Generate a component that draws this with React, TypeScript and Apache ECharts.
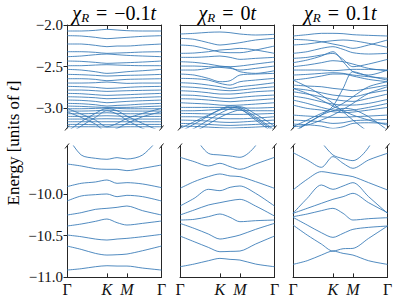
import React, { useEffect, useRef } from 'react';
import * as echarts from 'echarts';

const K_POS = 0.4226;
const M_POS = 0.634;
const SAMPLE_X = [0, 0.15, 0.3, K_POS, 0.53, M_POS, 0.8, 1];
const PATH_TICKS = [0, K_POS, M_POS, 1];
const PATH_LABELS = ['Γ', 'K', 'M', 'Γ'];
const TITLE_VALUES = ['−0.1', '0', '0.1'];
const TOP_RANGE = [-3.235, -2.0];
const BOTTOM_RANGE = [-11.0, -9.4245];
const TOP_TICKS = [-3.0, -2.5, -2.0];
const BOTTOM_TICKS = [-11.0, -10.5, -10.0];

// chi_R = -0.1t, upper window
const TOP_NEG: number[][] = [
  [-2.072, -2.072, -2.064, -2.052, -2.06, -2.068, -2.072, -2.072],
  [-2.128, -2.132, -2.148, -2.164, -2.156, -2.148, -2.136, -2.128],
  [-2.228, -2.228, -2.244, -2.26, -2.252, -2.252, -2.24, -2.228],
  [-2.32, -2.32, -2.328, -2.34, -2.336, -2.332, -2.324, -2.32],
  [-2.38, -2.372, -2.356, -2.348, -2.356, -2.364, -2.372, -2.38],
  [-2.432, -2.436, -2.448, -2.46, -2.456, -2.452, -2.444, -2.432],
  [-2.488, -2.488, -2.48, -2.476, -2.48, -2.484, -2.488, -2.488],
  [-2.532, -2.54, -2.56, -2.58, -2.572, -2.56, -2.548, -2.532],
  [-2.592, -2.596, -2.604, -2.612, -2.608, -2.604, -2.6, -2.592],
  [-2.644, -2.644, -2.652, -2.668, -2.66, -2.652, -2.648, -2.644],
  [-2.696, -2.696, -2.692, -2.684, -2.692, -2.7, -2.696, -2.696],
  [-2.736, -2.74, -2.748, -2.76, -2.756, -2.748, -2.74, -2.736],
  [-2.78, -2.78, -2.788, -2.796, -2.792, -2.788, -2.784, -2.78],
  [-2.82, -2.824, -2.836, -2.844, -2.84, -2.836, -2.828, -2.82],
  [-2.86, -2.864, -2.872, -2.884, -2.88, -2.876, -2.868, -2.86],
  [-2.9, -2.904, -2.916, -2.932, -2.924, -2.916, -2.908, -2.9],
  [-2.94, -2.944, -2.956, -2.972, -2.964, -2.96, -2.948, -2.94],
  [-2.972, -2.976, -2.984, -2.988, -2.988, -2.988, -2.98, -2.972],
  [-3.004, -3.004, -3.0, -2.996, -3.0, -3.004, -3.004, -3.004],
  [-3.032, -3.032, -3.028, -3.02, -3.028, -3.032, -3.032, -3.032],
  [-3.064, -3.064, -3.06, -3.052, -3.06, -3.064, -3.064, -3.064],
  [-3.096, -3.096, -3.092, -3.088, -3.092, -3.096, -3.096, -3.096],
  [-3.128, -3.128, -3.126, -3.124, -3.126, -3.128, -3.128, -3.128],
  [-3.16, -3.16, -3.16, -3.16, -3.16, -3.16, -3.16, -3.16],
  [-3.192, -3.192, -3.196, -3.196, -3.196, -3.192, -3.192, -3.192],
  [-3.22, -3.22, -3.22, -3.224, -3.224, -3.22, -3.22, -3.22],
  [-3.28, -3.16, -3.06, -3.0, -3.028, -3.092, -3.18, -3.28],
  [-3.32, -3.212, -3.108, -3.028, -3.068, -3.14, -3.24, -3.32],
  [-3.0, -3.068, -3.14, -3.22, -3.18, -3.12, -3.06, -3.0],
  [-3.04, -3.108, -3.188, -3.28, -3.24, -3.18, -3.1, -3.04],
];

// chi_R = 0, upper window
const TOP_ZERO: number[][] = [
  [-2.108, -2.1, -2.088, -2.084, -2.092, -2.108, -2.12, -2.112],
  [-2.16, -2.172, -2.212, -2.24, -2.228, -2.212, -2.18, -2.16],
  [-2.24, -2.252, -2.292, -2.324, -2.332, -2.332, -2.3, -2.252],
  [-2.34, -2.336, -2.32, -2.3, -2.292, -2.28, -2.3, -2.34],
  [-2.388, -2.388, -2.38, -2.372, -2.388, -2.412, -2.4, -2.388],
  [-2.44, -2.448, -2.468, -2.492, -2.5, -2.492, -2.468, -2.44],
  [-2.492, -2.492, -2.5, -2.508, -2.52, -2.54, -2.52, -2.492],
  [-2.54, -2.54, -2.52, -2.5, -2.508, -2.56, -2.58, -2.548],
  [-2.588, -2.6, -2.64, -2.68, -2.668, -2.6, -2.588, -2.58],
  [-2.64, -2.644, -2.66, -2.7, -2.72, -2.68, -2.66, -2.64],
  [-2.692, -2.7, -2.72, -2.74, -2.76, -2.74, -2.72, -2.692],
  [-2.74, -2.748, -2.764, -2.78, -2.788, -2.78, -2.76, -2.74],
  [-2.788, -2.796, -2.812, -2.828, -2.828, -2.82, -2.8, -2.788],
  [-2.84, -2.844, -2.86, -2.876, -2.88, -2.868, -2.852, -2.84],
  [-2.884, -2.888, -2.9, -2.912, -2.92, -2.912, -2.9, -2.884],
  [-2.932, -2.94, -2.948, -2.96, -2.964, -2.96, -2.948, -2.932],
  [-2.988, -2.988, -2.988, -2.988, -2.992, -2.996, -2.996, -2.988],
  [-3.028, -3.028, -3.02, -3.012, -3.012, -3.02, -3.028, -3.028],
  [-3.06, -3.062, -3.066, -3.07, -3.072, -3.072, -3.068, -3.06],
  [-3.1, -3.1, -3.108, -3.12, -3.124, -3.124, -3.116, -3.1],
  [-3.14, -3.144, -3.152, -3.164, -3.168, -3.164, -3.152, -3.14],
  [-3.18, -3.184, -3.192, -3.2, -3.204, -3.2, -3.192, -3.18],
  [-3.212, -3.216, -3.224, -3.232, -3.236, -3.232, -3.224, -3.212],
  [-3.28, -3.188, -3.092, -3.012, -2.972, -2.988, -3.1, -3.26],
  [-3.32, -3.24, -3.14, -3.06, -3.004, -2.98, -3.068, -3.212],
  [-3.24, -3.16, -3.08, -3.02, -2.988, -3.004, -3.14, -3.3],
  [-3.34, -3.28, -3.188, -3.108, -3.052, -3.02, -3.12, -3.28],
];

// chi_R = 0.1t, upper window
const TOP_POS: number[][] = [
  [-2.132, -2.116, -2.1, -2.1, -2.104, -2.116, -2.124, -2.132],
  [-2.172, -2.18, -2.2, -2.228, -2.252, -2.28, -2.24, -2.18],
  [-2.24, -2.228, -2.204, -2.188, -2.18, -2.188, -2.22, -2.268],
  [-2.34, -2.32, -2.28, -2.26, -2.292, -2.332, -2.348, -2.34],
  [-2.4, -2.388, -2.36, -2.34, -2.412, -2.5, -2.468, -2.412],
  [-2.452, -2.42, -2.372, -2.32, -2.44, -2.56, -2.6, -2.54],
  [-2.5, -2.48, -2.452, -2.428, -2.44, -2.468, -2.52, -2.548],
  [-2.54, -2.54, -2.54, -2.548, -2.54, -2.532, -2.532, -2.54],
  [-2.6, -2.592, -2.58, -2.572, -2.58, -2.6, -2.62, -2.64],
  [-2.66, -2.64, -2.612, -2.588, -2.588, -2.612, -2.652, -2.68],
  [-2.66, -2.74, -2.84, -2.94, -3.04, -3.14, -3.28, -3.38],
  [-2.72, -2.732, -2.74, -2.76, -2.772, -2.788, -2.76, -2.72],
  [-2.76, -2.78, -2.812, -2.84, -2.852, -2.86, -2.82, -2.78],
  [-2.8, -2.828, -2.86, -2.892, -2.908, -2.916, -2.88, -2.828],
  [-2.852, -2.88, -2.92, -2.948, -2.96, -2.96, -2.94, -2.892],
  [-2.9, -2.94, -2.988, -3.02, -3.028, -3.02, -2.988, -2.94],
  [-2.96, -3.0, -3.02, -3.04, -3.052, -3.044, -3.02, -2.988],
  [-3.22, -3.14, -3.06, -3.0, -2.94, -2.86, -2.74, -2.68],
  [-3.3, -3.18, -3.08, -3.028, -3.0, -3.012, -3.1, -3.26],
  [-3.08, -3.092, -3.1, -3.108, -3.108, -3.1, -3.092, -3.08],
  [-3.14, -3.148, -3.16, -3.18, -3.172, -3.148, -3.14, -3.132],
  [-3.188, -3.196, -3.212, -3.24, -3.22, -3.18, -3.172, -3.18],
  [-3.28, -3.18, -3.08, -2.972, -2.76, -2.56, -2.612, -2.66],
  [-2.76, -2.82, -2.9, -2.972, -3.028, -3.08, -3.14, -3.2],
  [-3.22, -3.2, -3.14, -3.08, -3.012, -2.94, -2.82, -2.74],
];

// chi_R = -0.1t, lower window
const BOTTOM_NEG: number[][] = [
  [-9.3, -9.532, -9.572, -9.584, -9.564, -9.58, -9.532, -9.3],
  [-9.64, -9.664, -9.696, -9.704, -9.704, -9.72, -9.692, -9.652],
  [-9.912, -9.872, -9.856, -9.832, -9.872, -9.864, -9.88, -9.924],
  [-10.084, -10.024, -10.008, -10.0, -10.032, -10.016, -10.032, -10.084],
  [-10.252, -10.224, -10.184, -10.172, -10.16, -10.144, -10.2, -10.252],
  [-10.384, -10.36, -10.328, -10.3, -10.344, -10.372, -10.352, -10.324],
  [-10.492, -10.512, -10.54, -10.552, -10.54, -10.532, -10.512, -10.484],
  [-10.624, -10.664, -10.712, -10.732, -10.728, -10.72, -10.68, -10.624],
  [-10.912, -10.896, -10.872, -10.86, -10.864, -10.864, -10.888, -10.912],
];

// chi_R = 0, lower window
const BOTTOM_ZERO: number[][] = [
  [-9.0, -9.3, -9.512, -9.532, -9.544, -9.56, -9.42, -9.0],
  [-9.56, -9.612, -9.664, -9.632, -9.672, -9.704, -9.64, -9.56],
  [-9.932, -9.852, -9.792, -9.76, -9.784, -9.792, -9.852, -9.932],
  [-10.144, -10.052, -9.944, -9.96, -9.92, -9.904, -9.992, -10.144],
  [-10.252, -10.192, -10.132, -10.104, -10.08, -10.064, -10.144, -10.264],
  [-10.312, -10.304, -10.272, -10.24, -10.28, -10.332, -10.32, -10.312],
  [-10.352, -10.412, -10.48, -10.54, -10.52, -10.492, -10.424, -10.352],
  [-10.504, -10.572, -10.64, -10.692, -10.688, -10.684, -10.6, -10.504],
  [-10.872, -10.84, -10.8, -10.772, -10.784, -10.792, -10.84, -10.872],
];

// chi_R = 0.1t, lower window
const BOTTOM_POS: number[][] = [
  [-9.504, -9.592, -9.68, -9.552, -9.632, -9.692, -9.592, -9.512],
  [-9.0, -9.2, -9.38, -9.532, -9.576, -9.6, -9.44, -9.0],
  [-9.952, -9.824, -9.732, -9.752, -9.772, -9.792, -9.864, -9.952],
  [-10.232, -10.052, -9.892, -9.944, -9.904, -9.864, -10.032, -10.232],
  [-10.232, -10.172, -10.112, -10.064, -10.032, -9.992, -10.104, -10.224],
  [-10.272, -10.24, -10.2, -10.172, -10.232, -10.312, -10.296, -10.284],
  [-10.28, -10.372, -10.464, -10.52, -10.472, -10.424, -10.4, -10.384],
  [-10.372, -10.492, -10.6, -10.684, -10.656, -10.652, -10.532, -10.384],
  [-10.844, -10.8, -10.732, -10.684, -10.712, -10.732, -10.8, -10.844],
];

const PANELS_TOP = [TOP_NEG, TOP_ZERO, TOP_POS];
const PANELS_BOTTOM = [BOTTOM_NEG, BOTTOM_ZERO, BOTTOM_POS];

// layout (pixels)
const PANEL_LEFT = [67, 180, 293];
const PANEL_WIDTH = 94.5;
const TOP_Y = 25;
const TOP_H = 103;
const BOT_Y = 146;
const BOT_H = 131.4;

const FONT = 'Liberation Serif';
const SPINE = '#262626';
const BAND_COLOR = '#3276b5';
const TEXT = '#111';

const fmtTick = (v: number) => (v < 0 ? '−' : '') + Math.abs(v).toFixed(1);

export default function App() {
  const ref = useRef<HTMLDivElement>(null);
  useEffect(() => {
    if (!ref.current) return;
    const chart = echarts.init(ref.current, undefined, { renderer: 'svg' });
    const grids: any[] = [];
    const xAxes: any[] = [];
    const yAxes: any[] = [];
    const series: any[] = [];
    for (let r = 0; r < 2; r++) {
      for (let p = 0; p < 3; p++) {
        const g = r * 3 + p;
        const isTop = r === 0;
        grids.push({
          left: PANEL_LEFT[p],
          top: isTop ? TOP_Y : BOT_Y,
          width: PANEL_WIDTH,
          height: isTop ? TOP_H : BOT_H,
          containLabel: false,
        });
        xAxes.push({
          type: 'value',
          gridIndex: g,
          min: 0,
          max: 1,
          position: isTop ? 'top' : 'bottom',
          axisLine: { show: true, onZero: false, lineStyle: { color: SPINE, width: 1 } },
          axisTick: {
            show: true,
            inside: true,
            length: 4,
            customValues: [K_POS, M_POS],
            lineStyle: { color: SPINE, width: 1 },
          },
          axisLabel: {
            show: !isTop,
            customValues: PATH_TICKS,
            margin: 4,
            fontFamily: FONT,
            fontSize: 16,
            color: TEXT,
            formatter: (v: number) => {
              let idx = 0;
              PATH_TICKS.forEach((t, i) => {
                if (Math.abs(t - v) < 1e-6) idx = i;
              });
              const lab = PATH_LABELS[idx];
              return lab === 'Γ' ? `{u|${lab}}` : `{i|${lab}}`;
            },
            rich: {
              u: { fontFamily: FONT, fontSize: 16, color: TEXT },
              i: { fontFamily: FONT, fontSize: 16, fontStyle: 'italic', color: TEXT },
            },
          },
          splitLine: { show: false },
        });
        const range = isTop ? TOP_RANGE : BOTTOM_RANGE;
        const ticks = isTop ? TOP_TICKS : BOTTOM_TICKS;
        yAxes.push({
          type: 'value',
          gridIndex: g,
          min: range[0],
          max: range[1],
          position: 'left',
          axisLine: { show: true, onZero: false, lineStyle: { color: SPINE, width: 1 } },
          axisTick: {
            show: p === 0,
            length: 3.5,
            customValues: ticks,
            lineStyle: { color: SPINE, width: 1 },
          },
          axisLabel: {
            show: p === 0,
            customValues: ticks,
            margin: 4,
            fontFamily: FONT,
            fontSize: 15,
            color: TEXT,
            formatter: (v: number) => `{t|${fmtTick(v)}}`,
            rich: { t: { fontFamily: FONT, fontSize: 15, color: TEXT } },
          },
          splitLine: { show: false },
        });
        yAxes.push({
          type: 'value',
          gridIndex: g,
          min: range[0],
          max: range[1],
          position: 'right',
          axisLine: { show: true, onZero: false, lineStyle: { color: SPINE, width: 1 } },
          axisTick: { show: false },
          axisLabel: { show: false },
          splitLine: { show: false },
        });
        const bands = isTop ? PANELS_TOP[p] : PANELS_BOTTOM[p];
        bands.forEach((band) => {
          series.push({
            type: 'line',
            xAxisIndex: g,
            yAxisIndex: 2 * g,
            data: SAMPLE_X.map((x, i) => [x, band[i]]),
            smooth: 0.3,
            showSymbol: false,
            symbol: 'none',
            clip: true,
            silent: true,
            lineStyle: { color: BAND_COLOR, width: 0.85 },
          });
        });
      }
    }

    const graphics: any[] = [];
    const mathRich = {
      x: { fontFamily: FONT, fontSize: 20, fontStyle: 'italic', color: TEXT, lineHeight: 22, verticalAlign: 'middle' },
      s: { fontFamily: FONT, fontSize: 13, fontStyle: 'italic', color: TEXT, lineHeight: 13, verticalAlign: 'bottom' },
      e: { fontFamily: FONT, fontSize: 20, color: TEXT, lineHeight: 22, verticalAlign: 'middle', padding: [0, 7, 0, 7] },
      n: { fontFamily: FONT, fontSize: 20, color: TEXT, lineHeight: 22, verticalAlign: 'middle' },
    };
    TITLE_VALUES.forEach((val, p) => {
      graphics.push({
        type: 'text',
        x: PANEL_LEFT[p] + PANEL_WIDTH / 2,
        y: 13,
        silent: true,
        style: {
          text: `{x|χ}{s|R}{e|=}{n|${val}}{x|t}`,
          rich: mathRich,
          align: 'center',
          verticalAlign: 'middle',
        },
      });
    });
    graphics.push({
      type: 'text',
      x: 13,
      y: 143,
      rotation: Math.PI / 2,
      silent: true,
      style: {
        text: '{n|Energy [units of }{i|t}{n|]}',
        rich: {
          n: { fontFamily: FONT, fontSize: 17, color: TEXT },
          i: { fontFamily: FONT, fontSize: 17, fontStyle: 'italic', color: TEXT },
        },
        align: 'center',
        verticalAlign: 'middle',
      },
    });
    // broken-axis marks
    PANEL_LEFT.forEach((lx) => {
      [lx, lx + PANEL_WIDTH].forEach((cx) => {
        [TOP_Y + TOP_H, BOT_Y].forEach((cy) => {
          graphics.push({
            type: 'line',
            silent: true,
            shape: { x1: cx - 2, y1: cy + 2.5, x2: cx + 2, y2: cy - 2.5 },
            style: { stroke: SPINE, lineWidth: 1 },
          });
        });
      });
    });

    chart.setOption({
      animation: false,
      backgroundColor: '#fff',
      grid: grids,
      xAxis: xAxes,
      yAxis: yAxes,
      series,
      graphic: graphics,
    });
    return () => chart.dispose();
  }, []);
  return (
    <div
      ref={ref}
      style={{ position: 'fixed', left: 0, top: 0, width: 399, height: 301 }}
    />
  );
}
